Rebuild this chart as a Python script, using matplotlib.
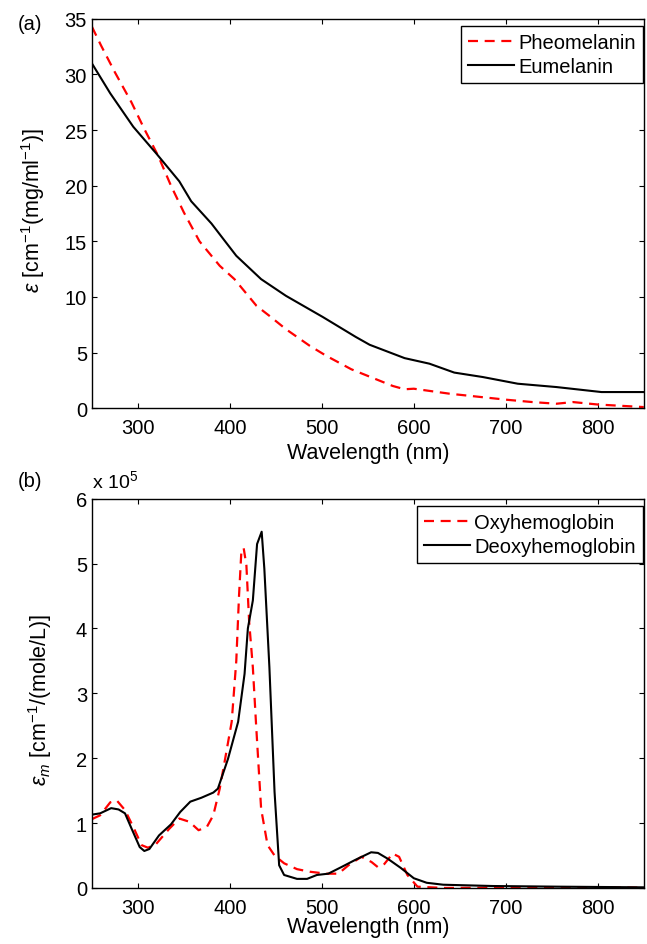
import matplotlib
matplotlib.use('Agg')
import matplotlib.pyplot as plt
from matplotlib.ticker import FuncFormatter

plt.rcParams['font.family'] = ['Liberation Sans', 'DejaVu Sans']
plt.rcParams['mathtext.fontset'] = 'custom'
plt.rcParams['mathtext.rm'] = 'Liberation Sans'
plt.rcParams['mathtext.it'] = 'Liberation Sans:italic'

# panel (a): melanin extinction coefficients
pheo_wl = [250, 260, 275, 293, 307, 322, 336, 350, 367, 389, 405, 429, 443, 461,
           487, 505, 532, 550, 577, 590, 600, 639, 702, 729, 755, 773, 800, 850]
pheo_eps = [34.3, 32.6, 30.2, 27.5, 25.1, 22.7, 20.0, 17.6, 15.0, 12.8, 11.6, 9.2, 8.3, 7.1,
            5.6, 4.7, 3.5, 2.9, 2.0, 1.7, 1.75, 1.3, 0.75, 0.55, 0.4, 0.55, 0.33, 0.1]
eu_wl = [250, 270, 295, 320, 345, 358, 380, 393, 407, 434, 461, 501, 537, 552,
         590, 617, 644, 675, 713, 755, 804, 850]
eu_eps = [31.0, 28.3, 25.3, 22.9, 20.4, 18.6, 16.6, 15.2, 13.7, 11.6, 10.1, 8.2, 6.4, 5.7,
          4.5, 4.0, 3.2, 2.8, 2.2, 1.9, 1.45, 1.45]

# panel (b): hemoglobin molar extinction (x 1e5)
oxy_wl = [250, 259, 270, 277, 286, 295, 304, 311, 320, 334, 345, 356, 366, 375, 382,
          389, 395, 402, 407, 410, 412.5, 415, 418, 421, 425, 428.6, 434, 441, 448.6,
          459, 473, 487, 505, 518, 529, 543, 554, 561, 568, 577, 584, 593, 604, 632,
          700, 800, 850]
oxy_eps = [1.06, 1.12, 1.32, 1.35, 1.2, 0.94, 0.66, 0.62, 0.68, 0.91, 1.07, 1.02, 0.89, 0.94, 1.12,
           1.53, 2.0, 2.56, 3.5, 4.51, 5.18, 5.24, 4.97, 4.1, 3.4, 2.5, 1.22, 0.66, 0.5,
           0.38, 0.29, 0.25, 0.22, 0.22, 0.35, 0.48, 0.4, 0.32, 0.37, 0.53, 0.48, 0.2, 0.02, 0.0,
           0.005, 0.01, 0.005]
deoxy_wl = [250, 259, 271, 279, 286, 293, 302, 307, 312.5, 323, 336, 346, 357, 369, 382,
            387, 398, 409, 416, 419.6, 425, 429.6, 434.6, 437.5, 443, 448.6, 453.6, 459, 473,
            484, 494.6, 507, 521, 536, 553.6, 561, 571.7, 585.7, 600, 614, 632, 686, 757, 850]
deoxy_eps = [1.13, 1.15, 1.23, 1.21, 1.15, 0.92, 0.63, 0.57, 0.6, 0.81, 0.98, 1.17, 1.33, 1.39, 1.47,
             1.53, 1.99, 2.56, 3.3, 4.0, 4.43, 5.3, 5.49, 4.92, 3.4, 1.48, 0.35, 0.2, 0.14,
             0.14, 0.2, 0.22, 0.32, 0.43, 0.55, 0.54, 0.45, 0.31, 0.15, 0.08, 0.05, 0.03, 0.02, 0.01]
scale_b = 1e5

fig = plt.figure(figsize=(6.47, 9.45), dpi=100)
ax1 = fig.add_axes([0.142, 0.567, 0.853, 0.412])
ax2 = fig.add_axes([0.142, 0.0593, 0.853, 0.412])

dash = (0, (4.5, 3))

ax1.plot(pheo_wl, pheo_eps, color='red', linestyle=dash, lw=1.6, label='Pheomelanin')
ax1.plot(eu_wl, eu_eps, color='black', lw=1.5, label='Eumelanin')
ax1.set_xlim(250, 850)
ax1.set_ylim(0, 35)
ax1.set_xticks([300, 400, 500, 600, 700, 800])
ax1.set_yticks([0, 5, 10, 15, 20, 25, 30, 35])
ax1.set_xlabel('Wavelength (nm)', fontsize=15.5)
ax1.set_ylabel(r'$\varepsilon$ [cm$^{-1}$(mg/ml$^{-1}$)]', fontsize=15.5)
ax1.xaxis.set_label_coords(0.5, -0.086)
ax1.yaxis.set_label_coords(-0.082, 0.51)

ax2.plot(oxy_wl, [v * scale_b for v in oxy_eps], color='red', linestyle=dash, lw=1.6,
         label='Oxyhemoglobin')
ax2.plot(deoxy_wl, [v * scale_b for v in deoxy_eps], color='black', lw=1.5,
         label='Deoxyhemoglobin')
ax2.set_xlim(250, 850)
ax2.set_ylim(0, 6e5)
ax2.set_xticks([300, 400, 500, 600, 700, 800])
ax2.set_yticks([0, 1e5, 2e5, 3e5, 4e5, 5e5, 6e5])
ax2.yaxis.set_major_formatter(FuncFormatter(lambda v, p: '%d' % round(v / scale_b)))
ax2.set_xlabel('Wavelength (nm)', fontsize=15.5)
ax2.set_ylabel(r'$\varepsilon_m$ [cm$^{-1}$/(mole/L)]', fontsize=15.5)
ax2.xaxis.set_label_coords(0.5, -0.072)
ax2.yaxis.set_label_coords(-0.068, 0.485)
ax2.text(0.0, 1.03, r'x 10$^5$', transform=ax2.transAxes, fontsize=14, ha='left',
         va='baseline')

for ax in (ax1, ax2):
    ax.tick_params(direction='in', top=True, right=True, length=3.5, width=0.8,
                   labelsize=14.5)
    ax.tick_params(axis='x', pad=7)
    ax.tick_params(axis='y', pad=3.5)
    for s in ax.spines.values():
        s.set_linewidth(1.0)
    leg = ax.legend(loc='upper right', bbox_to_anchor=(0.998, 0.982), borderaxespad=0,
                    fontsize=14.5, fancybox=False, framealpha=1, edgecolor='black',
                    handlelength=2.3, handletextpad=0.2, labelspacing=0.25,
                    borderpad=0.35)
    leg.get_frame().set_linewidth(1.0)

fig.text(0.027, 0.974, '(a)', fontsize=14.5, ha='left', va='center')
fig.text(0.027, 0.490, '(b)', fontsize=14.5, ha='left', va='center')

fig.savefig('out.png', dpi=100)
